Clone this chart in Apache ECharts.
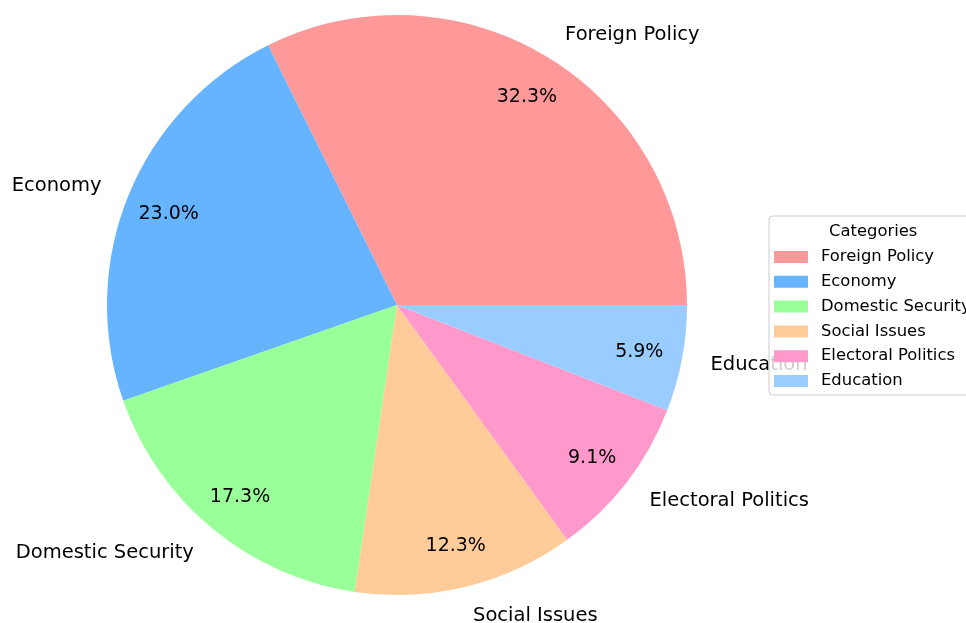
<!DOCTYPE html>
<html>
<head>
<meta charset="utf-8">
<script src="https://cdn.jsdelivr.net/npm/echarts@6/dist/echarts.min.js"></script>
<style>
html,body{margin:0;padding:0;background:#fff;}
#chart{width:966px;height:623px;}
</style>
</head>
<body>
<div id="chart"></div>
<script>
const categories = ['Foreign Policy', 'Economy', 'Domestic Security', 'Social Issues', 'Electoral Politics', 'Education'];
const values = [32.3, 23.0, 17.3, 12.3, 9.1, 5.9];
const colors = ['#ff9999', '#66b3ff', '#99ff99', '#ffcc99', '#ff99cc', '#99ccff'];
const legendTitle = 'Categories';

const FONT = 'DejaVu Sans';
const pieData = categories.map((c, i) => ({ name: c, value: values[i], itemStyle: { color: colors[i] } }));

const chart = echarts.init(document.getElementById('chart'), null, { renderer: 'canvas' });
chart.setOption({
  animation: false,
  backgroundColor: '#ffffff',
  color: colors,
  title: {
    text: legendTitle,
    left: 829,
    top: 224,
    padding: 0,
    z: 10,
    textStyle: { fontFamily: FONT, fontSize: 16.4, fontWeight: 'normal', color: '#000' }
  },
  legend: {
    orient: 'vertical',
    left: 769,
    top: 216,
    padding: [33, 6, 6, 5],
    itemWidth: 34,
    itemHeight: 12,
    itemGap: 8.8,
    icon: 'rect',
    data: categories,
    backgroundColor: 'rgba(255,255,255,0.8)',
    borderColor: '#cccccc',
    borderWidth: 1,
    borderRadius: 4,
    selectedMode: false,
    textStyle: { fontFamily: FONT, fontSize: 16.4, lineHeight: 16, color: '#000', padding: [0, 0, 0, 8] }
  },
  series: [
    {
      type: 'pie',
      center: [397, 305],
      radius: [0, 290],
      startAngle: 0,
      clockwise: false,
      avoidLabelOverlap: false,
      silent: true,
      data: pieData,
      label: {
        show: true,
        position: 'outside',
        distanceToLabelLine: 0,
        fontFamily: FONT,
        fontSize: 19.5,
        color: '#000',
        offset: [0, 1.5],
        formatter: '{b}'
      },
      labelLine: { show: false, length: 29, length2: 0 },
      emphasis: { disabled: true }
    },
    {
      type: 'pie',
      center: [397, 305],
      radius: [197, 290],
      startAngle: 0,
      clockwise: false,
      avoidLabelOverlap: false,
      silent: true,
      legendHoverLink: false,
      data: categories.map((c, i) => ({ name: c + ' ', value: values[i], itemStyle: { color: 'rgba(0,0,0,0)' } })),
      label: {
        show: true,
        position: 'inside',
        fontFamily: FONT,
        fontSize: 19,
        color: '#000',
        offset: [0, 2],
        formatter: p => p.value.toFixed(1) + '%'
      },
      labelLine: { show: false },
      emphasis: { disabled: true }
    }
  ]
});
</script>
</body>
</html>
